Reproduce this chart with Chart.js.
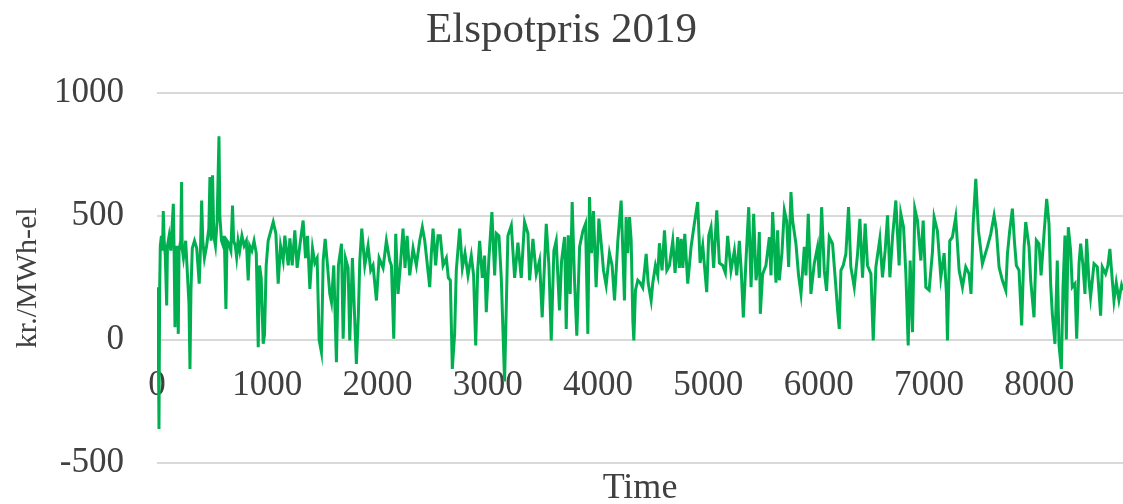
<!DOCTYPE html>
<html>
<head>
<meta charset="utf-8">
<script src="https://cdn.jsdelivr.net/npm/chart.js@4"></script>
<style>
  body { margin: 0; background: #fff; }
  #wrap { width: 1123px; height: 504px; }
</style>
</head>
<body>
<div id="wrap"><canvas id="chart" width="1123" height="504"></canvas></div>
<script>
// Data (hour of year, kr./MWh-el)
const hours = [
  0, 10, 18, 24, 30, 40, 50, 57, 65, 75, 88, 95, 110, 125, 148, 155, 163, 170, 180, 193,
  200, 215, 223, 228, 240, 260, 290, 299, 308, 320, 340, 360, 383, 395, 405, 415, 430, 450, 470, 480,
  490, 504, 515, 530, 545, 562, 570, 585, 600, 610, 625, 635, 650, 670, 685, 695, 710, 722, 735, 750,
  770, 790, 810, 827, 840, 860, 880, 900, 918, 930, 945, 963, 975, 990,
  1008, 1054, 1078, 1099, 1120, 1144, 1159, 1190, 1205, 1226, 1250, 1271, 1295, 1325, 1347, 1365, 1386, 1410, 1431, 1452,
  1470, 1491, 1507, 1525, 1546, 1567, 1582, 1603, 1627, 1645, 1673, 1688, 1709, 1733, 1748, 1772, 1808, 1826, 1839, 1857,
  1884, 1914, 1938, 1959, 1990, 2014, 2050, 2080, 2110,
  2126, 2147, 2165, 2186, 2207, 2231, 2249, 2268, 2292, 2322, 2352, 2382, 2406, 2428, 2452, 2473, 2488, 2503, 2527, 2548,
  2569, 2594, 2624, 2642, 2660, 2678, 2699, 2714, 2745, 2769, 2793, 2820, 2850, 2871, 2890, 2908, 2926, 2950, 2971, 2986,
  3010, 3037, 3062, 3077, 3101, 3122, 3152,
  3182, 3213, 3243, 3273, 3303, 3333, 3364, 3379, 3409, 3439, 3469, 3493, 3530, 3554, 3575, 3599, 3620, 3650, 3669, 3696,
  3711, 3729, 3747, 3765, 3786, 3807, 3832, 3862, 3886, 3907, 3922, 3940, 3958, 3982, 4007, 4028, 4049, 4073, 4103, 4127,
  4149, 4179, 4209,
  4239, 4254, 4269, 4285, 4300, 4315, 4324, 4339, 4360, 4381, 4405, 4436, 4454, 4481, 4496, 4520, 4541, 4556, 4580, 4602,
  4623, 4647, 4677, 4698, 4722, 4737, 4753, 4768, 4786, 4813, 4843, 4873, 4903, 4925, 4949, 4985, 5003, 5024, 5048, 5076,
  5100, 5130, 5154, 5175, 5205, 5236, 5257, 5281, 5299, 5317,
  5341, 5366, 5387, 5411, 5432, 5450, 5462, 5471, 5492, 5522, 5553, 5568, 5583, 5598, 5613, 5628, 5643, 5667, 5689, 5710,
  5728, 5749, 5764, 5794, 5818, 5840, 5870, 5885, 5906, 5930, 5960, 5990, 6006, 6027, 6051, 6072, 6096, 6126, 6150, 6172,
  6187, 6202, 6223, 6247, 6271, 6292, 6323, 6353, 6374, 6398, 6422, 6443,
  6474, 6495, 6519, 6555, 6579, 6603, 6625, 6646, 6670, 6700, 6715, 6730, 6745, 6770, 6791, 6812, 6830, 6851, 6872, 6896,
  6927, 6948, 6972, 7002, 7032, 7047, 7077, 7108, 7138, 7159, 7168, 7189, 7213, 7243, 7274, 7304, 7334, 7364, 7382, 7401,
  7425, 7449, 7485, 7530,
  7561, 7591, 7612, 7636, 7666, 7697, 7712, 7733, 7757, 7775, 7793, 7817, 7841, 7863, 7878, 7908, 7923, 7953, 7974, 7998,
  8017, 8044, 8068, 8089, 8104, 8119, 8143, 8164, 8180, 8201, 8216, 8234, 8246, 8264, 8285, 8300, 8324, 8340, 8361, 8376,
  8397, 8415, 8430, 8451, 8466, 8497, 8527, 8557, 8572, 8602, 8623, 8641, 8663, 8678, 8699, 8723, 8747, 8760
];
const prices = [
  212, 100, -362, 200, 380, 420, 360, 520, 400, 340, 138, 380, 420, 360, 550, 360, 50, 330, 380, 23,
  360, 400, 638, 370, 330, 400, 145, -119, 200, 370, 400, 370, 226, 380, 563, 400, 330, 380, 450, 658,
  400, 665, 420, 380, 480, 823, 500, 400, 380, 420, 124, 400, 390, 360, 543, 400, 380, 334, 400, 360,
  420, 380, 400, 239, 380, 360, 400, 350, -31, 300, 250, -17, 20, 300,
  400, 476, 430, 226, 380, 320, 421, 300, 410, 300, 442, 290, 380, 482, 330, 420, 205, 370, 310, 330,
  0, -51, 320, 408, 300, 185, 151, 300, -92, 300, 388, 3, 330, 290, -4, 330, -99, 100, 320, 449,
  300, 380, 280, 300, 158, 330, 290, 400, 320,
  300, 3, 428, 185, 300, 449, 290, 420, 260, 370, 300, 400, 455, 400, 300, 212, 350, 449, 300, 420,
  420, 300, 330, 250, 240, -119, 23, 280, 449, 290, 350, 260, 340, 260, -24, 280, 400, 250, 340, 111,
  330, 516, 260, 430, 420, 250, -170,
  420, 462, 250, 392, 250, 476, 429, 240, 408, 265, 320, 90, 469, 300, -4, 360, 400, 118, 320, 415,
  43, 422, 185, 557, 240, 16, 375, 440, 469, 23, 577, 350, 520, 212, 490, 390, 280, 220, 350, 300,
  158, 400, 563,
  158, 496, 350, 496, 400, 77, -4, 200, 240, 230, 210, 347, 230, 158, 230, 300, 260, 390, 280, 442,
  280, 300, 400, 270, 415, 290, 408, 290, 428, 226, 375, 470, 557, 310, 380, 192, 420, 455, 290, 523,
  310, 300, 270, 420, 280, 360, 260, 400, 270, 90,
  320, 536, 212, 509, 240, 300, 435, 104, 265, 300, 415, 260, 516, 375, 230, 442, 240, 350, 523, 480,
  294, 597, 482, 388, 260, 185, 375, 260, 509, 185, 307, 375, 250, 536, 280, 197, 415, 388, 250, 118,
  43, 280, 300, 347, 536, 294, 212, 347, 489, 250, 470, 300,
  266, -4, 294, 408, 252, 360, 503, 252, 415, 563, 429, 300, 510, 455, 266, -24, 320, 30, 530, 482,
  320, 482, 212, 200, 355, 496, 440, 252, 350, 185, -4, 400, 415, 496, 280, 212, 294, 266, 185, 469,
  651, 442, 307, 375,
  428, 503, 442, 294, 240, 199, 347, 442, 530, 400, 300, 280, 57, 375, 476, 375, 240, 90, 402, 388,
  260, 428, 570, 469, 226, 104, -18, 320, -24, -119, 212, 421, 0, 455, 360, 212, 226, 3, 307, 388,
  300, 185, 408, 240, 172, 307, 294, 97, 294, 266, 300, 367, 240, 158, 230, 160, 220, 200
];
const xTicks = [0, 1000, 2000, 3000, 4000, 5000, 6000, 7000, 8000];
const yTicks = [-500, 0, 500, 1000];

const textColor = "#404040";
const fontFamily = "'Liberation Serif', 'Times New Roman', serif";

const points = hours.map((h, i) => ({ x: h, y: prices[i] }));

// plain numbers, no thousands separator
const plain = (value) => String(value);

new Chart(document.getElementById("chart"), {
  type: "line",
  data: {
    datasets: [
      {
        data: points,
        borderColor: "#00B050",
        borderWidth: 3,
        pointRadius: 0,
        tension: 0,
        fill: false,
      },
    ],
  },
  options: {
    responsive: false,
    animation: false,
    layout: { padding: 0 },
    plugins: {
      legend: { display: false },
      tooltip: { enabled: false },
      title: {
        display: true,
        text: "Elspotpris 2019",
        color: textColor,
        font: { family: fontFamily, size: 43, weight: "normal" },
        padding: { top: 5, bottom: 36 },
      },
    },
    scales: {
      x: {
        type: "linear",
        min: 0,
        max: 8760,
        position: { y: 0 },
        afterBuildTicks: (scale) => {
          scale.ticks = xTicks.map((v) => ({ value: v }));
        },
        grid: { display: false, drawTicks: false },
        border: { display: false },
        ticks: {
          color: textColor,
          padding: 25,
          maxRotation: 0,
          callback: plain,
          font: { family: fontFamily, size: 35 },
        },
      },
      x2: {
        type: "linear",
        position: "bottom",
        display: true,
        afterFit: (scale) => {
          scale.height = 41;
        },
        grid: { display: false, drawTicks: false },
        border: { display: false },
        ticks: { display: false },
        title: {
          display: true,
          text: "Time",
          color: textColor,
          font: { family: fontFamily, size: 36, lineHeight: 1 },
          padding: { top: 0, bottom: -3 },
        },
      },
      y: {
        min: -500,
        max: 1000,
        afterBuildTicks: (scale) => {
          scale.ticks = yTicks.map((v) => ({ value: v }));
        },
        afterFit: (scale) => {
          scale.width = 157;
        },
        grid: {
          color: "#d9d9d9",
          lineWidth: 2,
          drawTicks: true,
          tickLength: 33,
          tickColor: "rgba(0,0,0,0)",
        },
        border: { display: false },
        ticks: {
          color: textColor,
          padding: 0,
          callback: plain,
          font: { family: fontFamily, size: 35 },
        },
        title: {
          display: true,
          text: "kr./MWh-el",
          color: textColor,
          font: { family: fontFamily, size: 30 },
          padding: { top: 10, bottom: 0 },
        },
      },
    },
  },
});
</script>
</body>
</html>
